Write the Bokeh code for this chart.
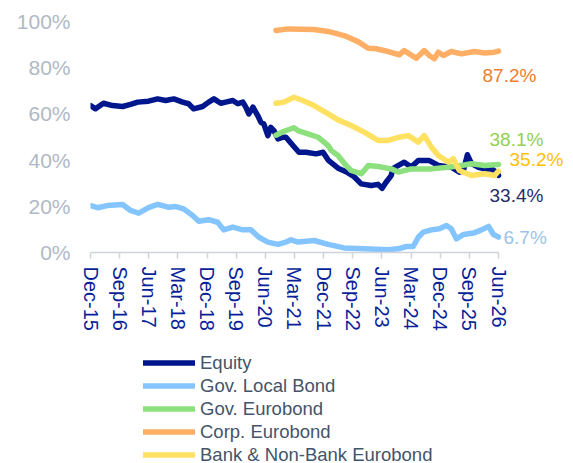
import pandas as pd
from bokeh.plotting import figure
from bokeh.layouts import column
from bokeh.models import (Range1d, FixedTicker, DatetimeTickFormatter, PrintfTickFormatter,
                          Legend, LegendItem, Label)
from bokeh.embed import file_html
from bokeh.resources import INLINE

# ---------------- data ----------------
equity_dates = ["2015-12-01", "2016-01-17", "2016-04-01", "2016-06-25", "2016-09-28", "2016-12-12",
                "2017-02-17", "2017-05-29", "2017-08-23", "2017-11-07", "2018-01-22", "2018-04-15",
                "2018-06-10", "2018-07-27", "2018-10-20", "2018-12-16", "2019-02-03", "2019-04-08",
                "2019-05-25", "2019-07-30", "2019-09-16", "2019-11-02", "2019-11-30", "2019-12-28",
                "2020-02-05", "2020-03-21", "2020-04-19", "2020-05-17", "2020-06-24", "2020-07-22",
                "2020-08-20", "2020-09-27", "2020-11-13", "2020-12-11", "2021-02-15", "2021-04-12",
                "2021-06-17", "2021-09-20", "2021-11-25", "2022-01-12", "2022-04-15", "2022-06-29",
                "2022-09-13", "2022-11-18", "2023-02-21", "2023-04-26", "2023-06-03", "2023-07-10",
                "2023-08-27", "2023-09-15", "2023-12-28", "2024-03-03", "2024-05-08", "2024-08-20",
                "2024-11-13", "2025-03-14", "2025-05-29", "2025-07-06", "2025-08-13", "2025-09-20",
                "2025-11-25", "2026-01-21", "2026-03-26", "2026-05-12", "2026-06-01"]
equity = [63.6, 62.2, 64.6, 63.6, 63.2, 64.1,
          65.1, 65.5, 66.5, 65.8, 66.5, 65.1,
          64.4, 62.2, 63.2, 65.1, 66.5, 64.6,
          65.1, 65.8, 64.4, 65.1, 62.9, 60.0,
          62.9, 59.3, 56.4, 55.7, 50.6, 54.2,
          52.8, 49.2, 49.9, 49.9, 46.3, 43.4,
          43.4, 42.7, 43.4, 40.0, 36.5, 35.0,
          32.8, 29.7, 29.0, 29.5, 27.8, 30.4,
          33.3, 36.4, 39.1, 37.0, 39.8, 39.8,
          37.7, 36.9, 34.8, 35.5, 42.3, 38.5,
          36.9, 36.2, 36.2, 34.8, 33.4]

local_dates = ["2015-12-01", "2016-02-05", "2016-05-08", "2016-09-28", "2016-12-12", "2017-02-26",
               "2017-05-29", "2017-08-23", "2017-12-05", "2018-02-10", "2018-04-24", "2018-07-18",
               "2018-09-13", "2018-12-16", "2019-03-10", "2019-05-06", "2019-07-30", "2019-11-02",
               "2020-01-17", "2020-04-01", "2020-06-24", "2020-09-27", "2020-12-11", "2021-01-28",
               "2021-04-03", "2021-09-01", "2022-01-12", "2022-06-10", "2022-12-16", "2023-07-29",
               "2023-11-02", "2024-01-16", "2024-03-21", "2024-05-08", "2024-06-24", "2024-09-08",
               "2024-11-23", "2025-01-28", "2025-03-14", "2025-05-01", "2025-07-06", "2025-10-09",
               "2025-12-23", "2026-02-28", "2026-04-14", "2026-06-01"]
gov_local = [20.3, 19.4, 20.3, 20.8, 18.2, 17.0,
             19.4, 20.8, 19.6, 19.9, 18.9, 16.0,
             13.5, 14.2, 13.1, 9.8, 11.0, 9.8,
             9.8, 6.6, 4.5, 3.5, 4.5, 5.5,
             4.5, 5.2, 3.5, 2.0, 1.6, 1.2,
             1.6, 2.6, 2.6, 6.6, 8.8, 9.8,
             10.3, 11.7, 10.3, 5.9, 7.8, 8.4,
             9.8, 11.3, 7.8, 6.7]

geuro_dates = ["2020-09-08", "2020-11-23", "2021-02-24", "2021-04-03", "2021-07-06", "2021-10-09",
               "2022-01-12", "2022-02-09", "2022-04-15", "2022-06-29", "2022-08-16", "2022-11-18",
               "2022-12-07", "2023-01-24", "2023-04-26", "2023-08-27", "2023-11-02", "2024-03-03",
               "2024-09-08", "2025-02-16", "2025-06-17", "2025-09-20", "2026-01-21", "2026-06-01"]
gov_euro = [50.8, 52.5, 54.0, 52.8, 51.4, 49.9,
            46.3, 44.2, 42.0, 37.7, 35.5, 34.1,
            35.0, 37.7, 37.2, 36.2, 34.8, 36.2,
            36.2, 36.9, 37.7, 38.4, 37.7, 38.1]

corp_dates = ["2020-09-08", "2021-01-01", "2021-09-01", "2022-01-12", "2022-06-10", "2022-10-20",
              "2023-01-24", "2023-04-08", "2023-07-29", "2023-11-11", "2023-12-28", "2024-04-19",
              "2024-07-03", "2024-08-20", "2024-10-06", "2024-11-13", "2024-12-30", "2025-03-14",
              "2025-06-17", "2025-10-18", "2026-01-21", "2026-04-24", "2026-06-01"]
corp_euro = [96.1, 96.8, 96.5, 95.7, 93.9, 91.3,
             88.4, 88.2, 87.0, 85.6, 87.4, 84.1,
             87.4, 85.3, 83.9, 86.7, 85.3, 87.0,
             86.0, 87.0, 86.4, 86.7, 87.2]

bank_dates = ["2020-09-08", "2020-11-23", "2021-02-24", "2021-05-19", "2021-09-01", "2022-01-12",
              "2022-04-15", "2022-08-16", "2022-12-16", "2023-04-26", "2023-07-29", "2023-11-11",
              "2024-02-04", "2024-05-08", "2024-07-03", "2024-09-08", "2024-11-13", "2025-02-16",
              "2025-04-02", "2025-05-29", "2025-09-20", "2026-01-21", "2026-04-24", "2026-06-01"]
bank_euro = [64.6, 65.1, 67.2, 65.8, 63.6, 60.0,
             57.4, 55.0, 52.1, 48.5, 48.5, 49.9,
             50.6, 47.8, 50.6, 45.6, 42.0, 39.1,
             40.6, 35.5, 33.3, 34.1, 33.3, 35.2]

series_names = ["Equity", "Gov. Local Bond", "Gov. Eurobond", "Corp. Eurobond", "Bank & Non-Bank Eurobond"]
y_ticks = [0, 20, 40, 60, 80, 100]
x_start, x_end = "2015-12-01", "2026-06-01"

# ---------------- styles / layout ----------------
FONT = "Liberation Sans"
line_colors = ["#00168c", "#84c5ff", "#8ce07e", "#ffae66", "#ffe162"]
label_colors = ["#1f2d6b", "#9dc3e6", "#92d050", "#ed7d31", "#ffc000"]
label_offsets = [(-9, -20), (5, 0), (-9, 25), (-16, -24), (11, 12)]

W = 573
H_MAIN, H_LEG = 345, 118
FRAME_L, AXIS_R, FRAME_T, FRAME_B = 90, 498, 21, 252
t0, t1 = pd.Timestamp(x_start), pd.Timestamp(x_end)
# the frame runs to the right edge so the end labels are not clipped; the axis stops at x_end
range_end = t0 + (t1 - t0) * ((W - FRAME_L) / (AXIS_R - FRAME_L))

p = figure(width=W, height=H_MAIN, output_backend="svg", toolbar_location=None,
           x_axis_type="datetime",
           x_range=Range1d(t0, range_end),
           y_range=Range1d(0, 100),
           min_border_left=FRAME_L, min_border_right=0, min_border_top=FRAME_T,
           min_border_bottom=H_MAIN - FRAME_B)
p.outline_line_color = None
p.xgrid.grid_line_color = None
p.ygrid.grid_line_color = None
p.background_fill_color = "white"
p.border_fill_color = "white"

# x axis
tick_dates = pd.date_range(start=x_start, end=x_end, freq="9MS")
xa = p.xaxis[0]
xa.bounds = (t0.timestamp() * 1000, t1.timestamp() * 1000)
xa.ticker = FixedTicker(ticks=[t.timestamp() * 1000 for t in tick_dates])
fmt = "%b-%y"
xa.formatter = DatetimeTickFormatter(microseconds=fmt, milliseconds=fmt, seconds=fmt, minsec=fmt,
                                     minutes=fmt, hourmin=fmt, hours=fmt, days=fmt, months=fmt, years=fmt)
xa.major_label_orientation = "vertical"
xa.major_label_text_font = FONT
xa.major_label_text_font_size = "20px"
xa.major_label_text_color = "#0a1f99"
xa.axis_line_color = "#d0d4da"
xa.axis_line_width = 1.5
xa.major_tick_line_color = "#d0d4da"
xa.major_tick_line_width = 1.5
xa.major_tick_in = 0
xa.major_tick_out = 6
xa.minor_tick_line_color = None
xa.major_label_standoff = 8

# y axis
ya = p.yaxis[0]
ya.ticker = FixedTicker(ticks=y_ticks)
ya.formatter = PrintfTickFormatter(format="%d%%")
ya.axis_line_color = None
ya.major_tick_line_color = None
ya.minor_tick_line_color = None
ya.major_label_text_font = FONT
ya.major_label_text_font_size = "21px"
ya.major_label_text_color = "#b0b9c6"
ya.major_label_standoff = 14

# legend figure (its frame is aligned with the main frame; the lines lie outside its ranges)
q = figure(width=W, height=H_LEG, output_backend="svg", toolbar_location=None,
           x_range=Range1d(0, 1), y_range=Range1d(0, 1),
           x_axis_location=None, y_axis_location=None,
           min_border_left=0, min_border_right=0, min_border_top=0, min_border_bottom=0)
q.outline_line_color = None
q.xgrid.grid_line_color = None
q.ygrid.grid_line_color = None
q.border_fill_color = "white"

all_dates = [equity_dates, local_dates, geuro_dates, corp_dates, bank_dates]
all_vals = [equity, gov_local, gov_euro, corp_euro, bank_euro]

items = []
for name, d, v, lc, tc, (dx, dy) in zip(series_names, all_dates, all_vals, line_colors,
                                         label_colors, label_offsets):
    xs = pd.to_datetime(d)
    p.line(xs, v, line_color=lc, line_width=5.5, line_join="round", line_cap="round")
    r = q.line(xs, v, line_color=lc, line_width=5.5, line_join="round", line_cap="round")
    items.append(LegendItem(label=name, renderers=[r]))
    p.add_layout(Label(x=xs[-1], y=v[-1], x_offset=dx, y_offset=dy, text=f"{v[-1]:.1f}%",
                       text_font=FONT, text_font_size="19px", text_color=tc,
                       text_align="left", text_baseline="middle"))

legend = Legend(items=items, location=(53, -3), orientation="vertical",
                border_line_color=None, background_fill_alpha=0, padding=0, margin=0, spacing=0,
                glyph_width=52, glyph_height=23, label_height=23, label_standoff=5,
                label_text_font=FONT, label_text_font_size="18.5px", label_text_color="#44546a")
q.add_layout(legend, "center")

open("out.html", "w").write(file_html(column(p, q, spacing=0), INLINE))
